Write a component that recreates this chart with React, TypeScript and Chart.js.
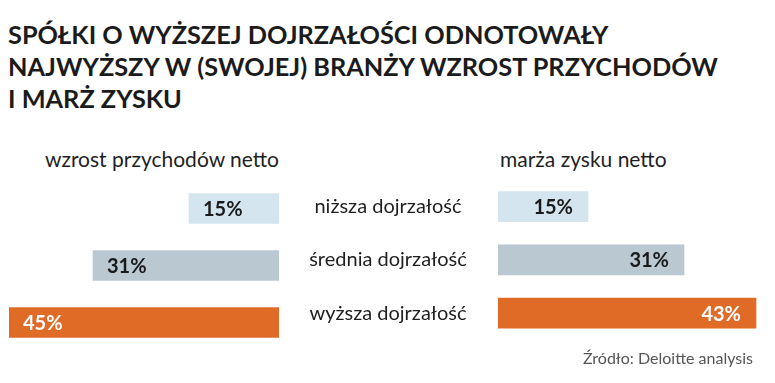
import React, { useEffect, useRef } from "react";
import { Chart, registerables } from "chart.js";
Chart.register(...registerables);

const titleLines = [
  "SPÓŁKI O WYŻSZEJ DOJRZAŁOŚCI ODNOTOWAŁY",
  "NAJWYŻSZY W (SWOJEJ) BRANŻY WZROST PRZYCHODÓW",
  "I MARŻ ZYSKU",
];
const categories = ["niższa dojrzałość", "średnia dojrzałość", "wyższa dojrzałość"];
const revenueGrowth = [15, 31, 45];
const netMargin = [15, 31, 43];
const barColors = ["#d5e5f0", "#b9c8d1", "#e06b27"];
const labelColors = ["#1a1a1a", "#1a1a1a", "#ffffff"];
const leftHeading = "wzrost przychodów netto";
const rightHeading = "marża zysku netto";
const sourceText = "Źródło: Deloitte analysis";

const FONT = "Lato, 'Noto Sans', sans-serif";

function valueLabels(side: "left" | "right") {
  return {
    id: "valueLabels",
    afterDatasetsDraw(chart: any) {
      const ctx = chart.ctx;
      const meta = chart.getDatasetMeta(0);
      const data = chart.data.datasets[0].data as number[];
      ctx.save();
      ctx.font = `bold 20px ${FONT}`;
      ctx.textBaseline = "middle";
      meta.data.forEach((bar: any, i: number) => {
        ctx.fillStyle = labelColors[i];
        if (side === "left") {
          ctx.textAlign = "left";
          ctx.fillText(data[i] + "%", bar.x + 14, bar.y + 1);
        } else {
          ctx.textAlign = "right";
          ctx.fillText(data[i] + "%", bar.x - 15, bar.y + 1);
        }
      });
      ctx.restore();
    },
  };
}

export default function App() {
  const leftRef = useRef<HTMLCanvasElement>(null);
  const rightRef = useRef<HTMLCanvasElement>(null);

  useEffect(() => {
    document.body.style.margin = "0";
    const m = document.createElement("canvas").getContext("2d")!;
    m.font = `20px ${FONT}`;
    const widest = Math.max(...categories.map((c) => m.measureText(c).width));
    const axisWidth = 219;
    const tickPad = axisWidth - 109 - widest / 2;

    const left = new Chart(leftRef.current!, {
      type: "bar",
      data: {
        labels: categories,
        datasets: [{ data: revenueGrowth, backgroundColor: barColors, barThickness: 30 }],
      },
      options: {
        indexAxis: "y",
        responsive: false,
        animation: false,
        layout: { padding: { left: 9, right: 0, top: 180, bottom: 32 } },
        plugins: { legend: { display: false }, tooltip: { enabled: false } },
        scales: {
          x: { display: false, reverse: true, min: 0, max: 45 },
          y: { display: false },
        },
      },
      plugins: [valueLabels("left")],
    } as any);

    const right = new Chart(rightRef.current!, {
      type: "bar",
      data: {
        labels: categories,
        datasets: [{ data: netMargin, backgroundColor: barColors, barThickness: 30 }],
      },
      options: {
        indexAxis: "y",
        responsive: false,
        animation: false,
        layout: { padding: { left: 0, right: 7, top: 180, bottom: 32 } },
        plugins: { legend: { display: false }, tooltip: { enabled: false } },
        scales: {
          x: { display: false, min: 0, max: 45 },
          y: {
            position: "left",
            grid: { display: false, drawTicks: false },
            border: { display: false },
            ticks: {
              crossAlign: "center",
              padding: tickPad,
              color: "#1f1f1f",
              font: { family: FONT, size: 20 },
            },
            afterFit: (s: any) => {
              s.width = axisWidth;
            },
          },
        },
      },
      plugins: [valueLabels("right")],
    } as any);

    return () => {
      left.destroy();
      right.destroy();
    };
  }, []);

  return (
    <div
      style={{
        position: "fixed",
        left: 0,
        top: 0,
        width: 775,
        height: 383,
        background: "#fff",
        fontFamily: FONT,
        overflow: "hidden",
      }}
    >
      <div
        style={{
          position: "absolute",
          left: 8,
          top: 18,
          fontSize: 25.3,
          lineHeight: "32px",
          fontWeight: 700,
          color: "#1b1b1b",
          whiteSpace: "nowrap",
        }}
      >
        {titleLines.map((l, i) => (
          <div key={i}>{l}</div>
        ))}
      </div>
      <div
        style={{
          position: "absolute",
          right: 775 - 279,
          top: 145,
          fontSize: 21,
          lineHeight: "28px",
          color: "#1f1f1f",
          whiteSpace: "nowrap",
        }}
      >
        {leftHeading}
      </div>
      <div
        style={{
          position: "absolute",
          left: 500,
          top: 145,
          fontSize: 21,
          lineHeight: "28px",
          color: "#1f1f1f",
          whiteSpace: "nowrap",
        }}
      >
        {rightHeading}
      </div>
      <canvas
        ref={leftRef}
        width={279}
        height={383}
        style={{ position: "absolute", left: 0, top: 0 }}
      />
      <canvas
        ref={rightRef}
        width={496}
        height={383}
        style={{ position: "absolute", left: 279, top: 0 }}
      />
      <div
        style={{
          position: "absolute",
          right: 775 - 753,
          top: 347,
          fontSize: 16,
          lineHeight: "22px",
          color: "#555",
          whiteSpace: "nowrap",
        }}
      >
        {sourceText}
      </div>
    </div>
  );
}
